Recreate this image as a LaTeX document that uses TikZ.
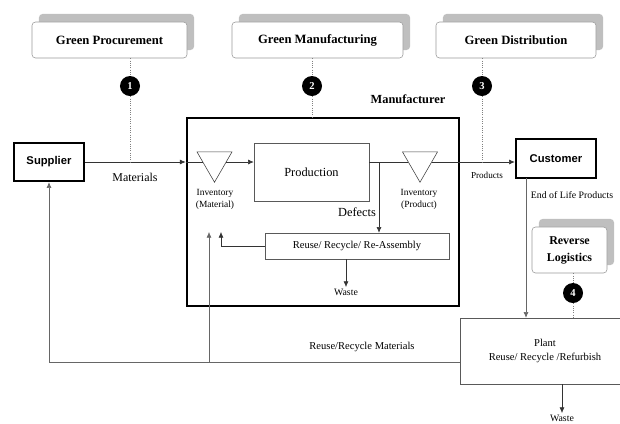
\documentclass[tikz,border=0pt]{standalone}
\usepackage{fontspec}
\setmainfont{Liberation Serif}
\newfontfamily\actorfont{Liberation Sans}
\usetikzlibrary{arrows.meta,positioning,shapes.geometric,shadows}

\begin{document}
\begin{tikzpicture}[x=0.025cm, y=-0.025cm,
    green/.style={draw=gray!80, rounded corners=2.5pt, fill=white, minimum height=0.9cm, font=\fontsize{9}{10}\selectfont\bfseries, general shadow={fill=gray!50, shadow xshift=0.175cm, shadow yshift=0.2cm}},
    num/.style={circle, fill=black, text=white, minimum size=0.5cm, inner sep=0pt, font=\fontsize{7.5}{8}\selectfont\bfseries},
    actor/.style={draw, line width=1.8pt, font=\actorfont\fontsize{8}{9}\selectfont\bfseries},
    stage/.style={draw=black!65, fill=white, font=\fontsize{7.5}{10}\selectfont},
    stock/.style={regular polygon, regular polygon sides=3, shape border rotate=180, draw=black!75, minimum size=1.01cm, inner sep=0pt},
    note/.style={font=\fontsize{7}{9}\selectfont, inner sep=1pt},
    link/.style={densely dotted, black!50, semithick},
    flow/.style={black!80},
    arrow/.style={-{Latex[length=4pt,width=3.5pt]}, black!80}
]
\useasboundingbox (0,0) rectangle (620,423);
\clip (0,0) rectangle (620,423);
\node[green, minimum width=3.875cm] (gproc) at (109.5,40) {Green Procurement};
\node[green, minimum width=4.275cm] (gmanu) at (317.5,40) {Green Manufacturing};
\node[green, minimum width=4cm] (gdist) at (516,40) {Green Distribution};
\node[num] (n1) at (130,86) {1};
\node[num] (n2) at (312,86) {2};
\node[num] (n3) at (482,86) {3};
\node[font=\fontsize{8.8}{10}\selectfont\bfseries] (manulabel) at (408,99) {Manufacturer};
\node[draw, line width=2pt, minimum width=6.8cm, minimum height=4.7cm] (manu) at (323,212) {};
\node[actor, minimum width=1.75cm, minimum height=0.95cm] (supplier) at (49,162) {Supplier};
\node[actor, minimum width=2cm, minimum height=0.975cm] (customer) at (556,158.5) {Customer};
\node[stock] (invmat) at (214.5,162) {};
\node[stock] (invprod) at (420,162) {};
\node[stage, minimum width=2.875cm, minimum height=1.45cm, font=\fontsize{8.8}{10}\selectfont] (prod) at (311.5,172) {Production};
\node[stage, minimum width=4.6cm, minimum height=0.65cm] (reuse) at (357,246) {Reuse/ Recycle/ Re-Assembly};
\node[stage, minimum width=4.25cm, minimum height=1.65cm, align=center] (plant) at (545,351) {Plant\\Reuse/ Recycle /Refurbish};
\node[green, minimum width=1.875cm, minimum height=1.15cm, align=center, font=\fontsize{8.5}{12}\selectfont\bfseries] (rlog) at (569.5,250) {Reverse\\Logistics};
\node[num] (n4) at (573,293) {4};
\node[note, font=\fontsize{8.5}{10}\selectfont] (materials) at (135,177) {Materials};
\node[note, align=center, font=\fontsize{6.7}{9}\selectfont] (invmatlabel) at (215,199.5) {Inventory\\(Material)};
\node[note, font=\fontsize{8.8}{10}\selectfont] (defects) at (357,212) {Defects};
\node[note, align=center, font=\fontsize{6.7}{9}\selectfont] (invprodlabel) at (419,199.5) {Inventory\\(Product)};
\node[note, font=\fontsize{6.5}{8}\selectfont] (products) at (487,175) {Products};
\node[note] (eollabel) at (572,195) {End of Life Products};
\node[note] (waste1) at (346,292) {Waste};
\node[note, font=\fontsize{7.5}{9}\selectfont] (rrmat) at (362,347) {Reuse/Recycle Materials};
\node[note] (waste2) at (562,418) {Waste};
\coordinate (split) at (379,162);
\coordinate (back1) at (221,232);
\coordinate (back2) at (209,232);
\coordinate (rmat) at (460,362);
\coordinate (eol) at (526,178);
\draw[arrow] (supplier.east) -- (supplier.east -| manu.west);
\draw[flow] (supplier.east -| manu.west) -- (invmat);
\draw[arrow] (invmat) -- (invmat -| prod.west);
\draw[flow] (invprod -| prod.east) -- (invprod);
\draw[arrow] (invprod) -- (invprod -| customer.west);
\draw[arrow] (split) -- (split |- reuse.north);
\draw[arrow] (reuse.west) -| (back1);
\draw[arrow] (waste1 |- reuse.south) -- (waste1.north);
\draw[arrow, black!60] (rmat) -| (supplier.south);
\draw[arrow, black!60] (rmat -| back2) -- (back2);
\draw[arrow, black!60] (eol) -- (eol |- plant.north);
\draw[arrow] (waste2 |- plant.south) -- (waste2.north);
\draw[link] (n1 |- gproc.south) -- (n1);
\draw[link] (n1) -- (n1 |- invmat);
\draw[link] (n2 |- gmanu.south) -- (n2);
\draw[link] (n2) -- (n2 |- manu.north);
\draw[link] (n3 |- gdist.south) -- (n3);
\draw[link] (n3) -- (n3 |- invprod);
\draw[link] (n4 |- rlog.south) -- (n4);
\draw[link] (n4) -- (n4 |- plant.north);
\end{tikzpicture}
\end{document}
